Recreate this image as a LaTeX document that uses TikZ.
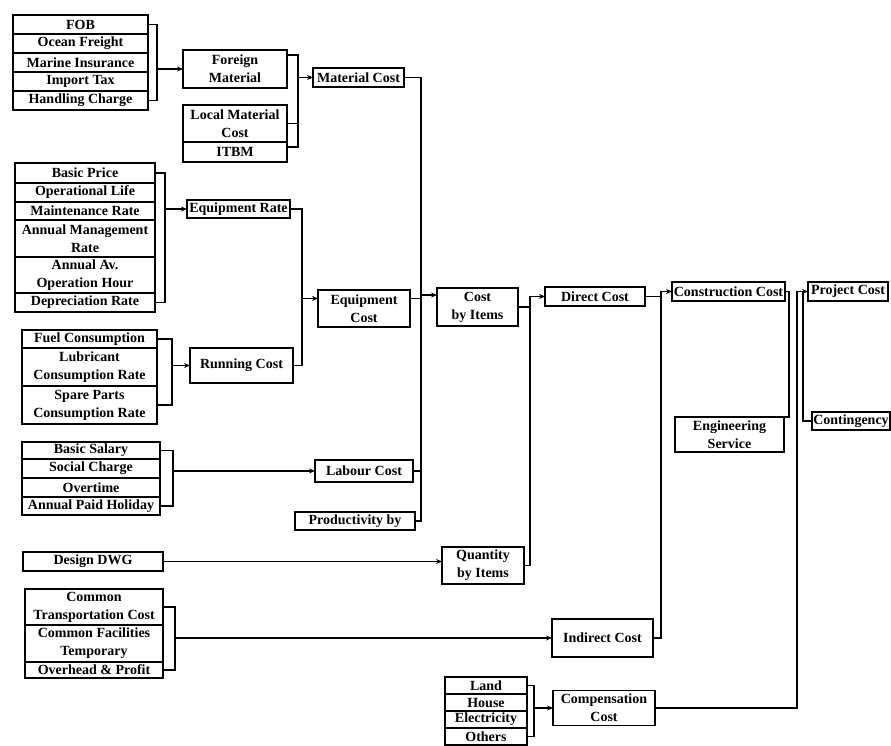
\documentclass[tikz,border=0pt]{standalone}
\usepackage{fontspec}
\setmainfont{Liberation Serif}
\usetikzlibrary{arrows.meta,positioning}

\begin{document}
\begin{tikzpicture}[
    x=1pt, y=-1pt,
    font=\fontsize{14}{18}\selectfont\bfseries,
    box/.style={draw, line width=1.1pt, align=center, inner sep=0pt,
        outer sep=0pt, minimum height=19pt},
    flow/.style={-{Stealth[length=6pt,width=5pt]}, line width=1.2pt},
    link/.style={line width=1.2pt}
]
\useasboundingbox (0,0) rectangle (891,746);

% Material inputs
\node[box, minimum width=135pt, anchor=north west] (fob) at (13,15) {FOB};
\node[box, minimum width=135pt, below=0pt of fob] (freight) {Ocean Freight};
\node[box, minimum width=135pt, below=0pt of freight] (insurance) {Marine Insurance};
\node[box, minimum width=135pt, below=0pt of insurance] (imptax) {Import Tax};
\node[box, minimum width=135pt, below=0pt of imptax] (handling) {Handling Charge};

\node[box, minimum width=104pt, minimum height=38pt] (foreign) at (235,69) {Foreign\\Material};
\node[box, minimum width=104pt, minimum height=37pt] (local) at (235,123.5) {Local Material\\Cost};
\node[box, minimum width=104pt, minimum height=20pt, below=0pt of local] (itbm) {ITBM};
\node[box, minimum width=91pt] (matcost) at (358.5,77.5) {Material Cost};

\coordinate (ja) at (157,0);
\coordinate (jb) at (298,0);
\draw[link] (fob.east) -| (ja |- handling.east) -- (handling.east);
\draw[flow] (ja |- foreign.west) -- (foreign.west);
\draw[link] ([yshift=14pt]foreign.east) -| ([yshift=-5pt]jb |- itbm.north)
    -- ([yshift=-5pt]itbm.north east);
\draw[link] (local.east) -- (local.east -| jb);
\draw[flow] (jb |- matcost.west) -- (matcost.west);

% Equipment inputs
\node[box, minimum width=140pt, minimum height=20pt, anchor=north west] (price) at (15,163) {Basic Price};
\node[box, minimum width=140pt, below=0pt of price] (oplife) {Operational Life};
\node[box, minimum width=140pt, minimum height=18pt, below=0pt of oplife] (maint) {Maintenance Rate};
\node[box, minimum width=140pt, minimum height=37pt, below=0pt of maint] (mgmt) {Annual Management\\Rate};
\node[box, minimum width=140pt, minimum height=36pt, below=0pt of mgmt] (avhour) {Annual Av.\\Operation Hour};
\node[box, minimum width=140pt, below=0pt of avhour] (deprec) {Depreciation Rate};

\node[box, minimum width=135pt, minimum height=18pt, anchor=north west] (fuel) at (22,330) {Fuel Consumption};
\node[box, minimum width=135pt, minimum height=38pt, below=0pt of fuel] (lubricant) {Lubricant\\Consumption Rate};
\node[box, minimum width=135pt, minimum height=38pt, below=0pt of lubricant] (spare) {Spare Parts\\Consumption Rate};

\node[box, minimum width=103pt, minimum height=18pt] (eqrate) at (238.5,209) {Equipment Rate};
\node[box, minimum width=103pt, minimum height=35pt] (runcost) at (241.5,365.5) {Running Cost};
\node[box, minimum width=92pt, minimum height=37pt] (eqcost) at (364,308.5) {Equipment\\Cost};

\coordinate (jd) at (165,0);
\coordinate (je) at (172,0);
\coordinate (jf) at (302,0);
\draw[link] (price.east) -| (jd |- deprec.east) -- (deprec.east);
\draw[flow] (jd |- eqrate.west) -- (eqrate.west);
\draw[link] (fuel.east) -| (je |- spare.east) -- (spare.east);
\draw[flow] (je |- runcost.west) -- (runcost.west);
\draw[link] (eqrate.east) -| (jf |- runcost.east) -- (runcost.east);
\draw[flow] ([yshift=10pt]eqcost.west -| jf) -- ([yshift=10pt]eqcost.west);

% Labour inputs
\node[box, minimum width=138pt, minimum height=17pt, anchor=north west] (salary) at (22,442) {Basic Salary};
\node[box, minimum width=138pt, below=0pt of salary] (social) {Social Charge};
\node[box, minimum width=138pt, below=0pt of social] (overtime) {Overtime};
\node[box, minimum width=138pt, minimum height=18pt, below=0pt of overtime] (holiday) {Annual Paid Holiday};

\node[box, minimum width=98pt, minimum height=22pt] (labour) at (364,471) {Labour Cost};
\node[box, minimum width=120pt, minimum height=18pt] (prodby) at (355,521) {Productivity by};

\coordinate (jg) at (173,0);
\draw[link] (salary.east) -| (jg |- holiday.east) -- (holiday.east);
\draw[flow] (jg |- labour.west) -- (labour.west);

% Cost by items and quantities
\node[box, minimum width=81pt, minimum height=38pt] (costitems) at (477.5,307) {Cost\\by Items};
\node[box, minimum width=140pt, anchor=north west] (design) at (23,552) {Design DWG};
\node[box, minimum width=82pt, minimum height=37pt] (qty) at (483,565.5) {Quantity\\by Items};

\coordinate (jc) at (421,0);
\draw[link] (matcost.east) -| (jc |- prodby.east) -- (prodby.east);
\draw[link] ([yshift=10pt]eqcost.east) -- ([yshift=10pt]eqcost.east -| jc);
\draw[link] (labour.east) -- (labour.east -| jc);
\draw[flow] ([yshift=12pt]costitems.west -| jc) -- ([yshift=12pt]costitems.west);
\draw[flow] (design.east) -- (design.east -| qty.west);

\node[box, minimum width=100pt] (direct) at (595,296.5) {Direct Cost};
\coordinate (jh) at (530,0);
\draw[link] (costitems.east) -- (costitems.east -| jh);
\draw[flow] (qty.east) -| (jh |- direct.west) -- (direct.west);

% Indirect cost inputs
\node[box, minimum width=138pt, minimum height=36pt, anchor=north west] (commontrans) at (25,589) {Common\\Transportation Cost};
\node[box, minimum width=138pt, minimum height=37pt, below=0pt of commontrans] (facilities) {Common Facilities\\Temporary};
\node[box, minimum width=138pt, minimum height=16pt, below=0pt of facilities] (overhead) {Overhead \& Profit};

\node[box, minimum width=101pt, minimum height=38pt] (indirect) at (602.5,638) {Indirect Cost};
\coordinate (ji) at (175,0);
\draw[link] (commontrans.east) -| (ji |- overhead.east) -- (overhead.east);
\draw[flow] (ji |- indirect.west) -- (indirect.west);

% Construction cost
\node[box, minimum width=113pt] (construction) at (728.5,291.5) {Construction Cost};
\node[box, minimum width=109pt, minimum height=35pt] (engserv) at (729.5,434.5) {Engineering\\Service};
\coordinate (jj) at (661,0);
\draw[link] (direct.east) -- (direct.east -| jj);
\draw[flow] (indirect.east) -| (jj |- construction.west) -- (construction.west);

% Compensation inputs
\node[box, minimum width=82pt, minimum height=17pt, anchor=north west] (land) at (445,677) {Land};
\node[box, minimum width=82pt, minimum height=17pt, below=0pt of land] (house) {House};
\node[box, minimum width=82pt, minimum height=17pt, below=0pt of house] (electricity) {Electricity};
\node[box, minimum width=82pt, minimum height=17pt, below=0pt of electricity] (others) {Others};

\node[box, minimum width=102pt, minimum height=35pt] (compcost) at (604,708) {Compensation\\Cost};
\coordinate (jk) at (534,0);
\draw[link] (land.east) -| (jk |- others.east) -- (others.east);
\draw[flow] (jk |- compcost.west) -- (compcost.west);

% Project cost
\node[box, minimum width=80pt] (project) at (848,291.5) {Project Cost};
\node[box, minimum width=78pt, minimum height=18pt] (contingency) at (851,421) {Contingency};
\coordinate (jl) at (789,0);
\coordinate (jm) at (797,0);
\coordinate (jn) at (803,0);
\draw[link] (construction.east) -| (jl |- engserv.north east) -- (engserv.north east);
\draw[flow] (compcost.east) -| (jm |- project.west) -- (project.west);
\draw[link] (jn |- project.west) |- (contingency.west);

\end{tikzpicture}
\end{document}
